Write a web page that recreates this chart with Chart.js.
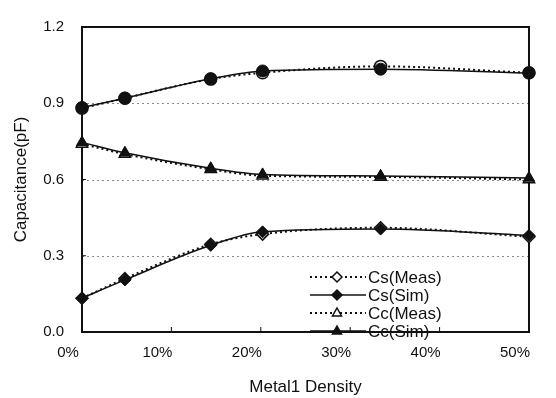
<!DOCTYPE html>
<html>
<head>
<meta charset="utf-8">
<script src="https://cdn.jsdelivr.net/npm/chart.js@4.4.1/dist/chart.umd.min.js"></script>
<style>
  body { margin: 0; background: #fff; }
  canvas { display: block; }
</style>
</head>
<body>
<canvas id="capChart" width="556" height="398"></canvas>
<script>
// Metal1 density (%) at each measured point
const density = [0, 4.8, 14.4, 20.2, 33.4, 50];

// top curve (Cs + Cc), not in legend
const ctMeas = [0.880, 0.920, 0.995, 1.020, 1.045, 1.020];
const ctSim  = [0.883, 0.920, 0.996, 1.027, 1.034, 1.019];

const ccMeas = [0.740, 0.700, 0.640, 0.615, 0.610, 0.600];
const ccSim  = [0.746, 0.705, 0.644, 0.620, 0.614, 0.606];

const csMeas = [0.133, 0.210, 0.345, 0.385, 0.410, 0.375];
const csSim  = [0.133, 0.205, 0.341, 0.394, 0.405, 0.380];

const xTicks = [0, 10, 20, 30, 40, 50];
const yTicks = [0.0, 0.3, 0.6, 0.9, 1.2];

const FONT = "'Liberation Sans', Arial, sans-serif";

function toPoints(values) {
    return values.map((v, i) => ({ x: density[i], y: v }));
}

function makeSet(label, values, style, meas, order) {
    return {
        label: label,
        data: toPoints(values),
        borderColor: '#111',
        borderWidth: meas ? 2 : 1.5,
        borderDash: meas ? [2, 3] : [],
        pointStyle: style,
        pointRadius: style === 'triangle' ? 6.5 : 6,
        pointBackgroundColor: meas ? '#fff' : '#111',
        pointBorderColor: '#111',
        pointBorderWidth: meas ? 1.5 : 1,
        cubicInterpolationMode: 'monotone',
        fill: false,
        clip: false,
        order: order
    };
}

function drawMarker(ctx, style, x, y, r, fillColor) {
    ctx.save();
    ctx.beginPath();
    if (style === 'circle') {
        ctx.arc(x, y, r, 0, Math.PI * 2);
    } else if (style === 'rectRot') {
        ctx.moveTo(x, y - r);
        ctx.lineTo(x + r, y);
        ctx.lineTo(x, y + r);
        ctx.lineTo(x - r, y);
        ctx.closePath();
    } else {
        ctx.moveTo(x, y - r);
        ctx.lineTo(x + r * 0.9, y + r * 0.6);
        ctx.lineTo(x - r * 0.9, y + r * 0.6);
        ctx.closePath();
    }
    ctx.fillStyle = fillColor;
    ctx.fill();
    ctx.lineWidth = 1.5;
    ctx.strokeStyle = '#111';
    ctx.setLineDash([]);
    ctx.stroke();
    ctx.restore();
}

// dotted grid, frame, inner tick marks and the legend inside the plot
const framePlugin = {
    id: 'framePlugin',
    beforeDatasetsDraw(chart) {
        const ctx = chart.ctx;
        const a = chart.chartArea;
        const xs = chart.scales.x;
        const ys = chart.scales.y;
        ctx.save();
        // dotted horizontal grid (not on the frame lines)
        ctx.strokeStyle = '#8a8a8a';
        ctx.lineWidth = 1;
        ctx.setLineDash([2, 3]);
        yTicks.slice(1, -1).forEach(t => {
            const py = Math.round(ys.getPixelForValue(t)) + 0.5;
            ctx.beginPath();
            ctx.moveTo(a.left, py);
            ctx.lineTo(a.right, py);
            ctx.stroke();
        });
        ctx.setLineDash([]);
        ctx.strokeStyle = '#111';
        ctx.lineWidth = 2;
        ctx.strokeRect(a.left, a.top, a.right - a.left, a.bottom - a.top);
        ctx.lineWidth = 1;
        ctx.beginPath();
        xTicks.forEach(t => {
            const px = xs.getPixelForValue(t);
            ctx.moveTo(px, a.bottom);
            ctx.lineTo(px, a.bottom - 5);
        });
        yTicks.forEach(t => {
            const py = ys.getPixelForValue(t);
            ctx.moveTo(a.left, py);
            ctx.lineTo(a.left + 4, py);
        });
        ctx.stroke();
        ctx.restore();
    },
    afterDraw(chart) {
        const ctx = chart.ctx;
        const items = [0, 1, 2, 3]; // Cs(Meas), Cs(Sim), Cc(Meas), Cc(Sim)
        ctx.save();
        ctx.font = '17px ' + FONT;
        ctx.textBaseline = 'middle';
        ctx.fillStyle = '#111';
        items.forEach((idx, row) => {
            const ds = chart.data.datasets[idx];
            const y = 277 + row * 18;
            ctx.beginPath();
            ctx.setLineDash(ds.borderDash);
            ctx.lineWidth = ds.borderWidth;
            ctx.strokeStyle = '#111';
            ctx.moveTo(310, y);
            ctx.lineTo(366, y);
            ctx.stroke();
            drawMarker(ctx, ds.pointStyle, 337, y, 5, ds.pointBackgroundColor);
            ctx.fillText(ds.label, 368, y + 1);
        });
        ctx.restore();
    }
};

function whenDocumentLoaded(action) {
    if (document.readyState === "loading") {
        document.addEventListener("DOMContentLoaded", action);
    } else {
        action();
    }
}

whenDocumentLoaded(() => {
    const ctx = document.getElementById('capChart');

    new Chart(ctx, {
        type: 'line',
        data: {
            datasets: [
                makeSet('Cs(Meas)', csMeas, 'rectRot', true, 1),
                makeSet('Cs(Sim)', csSim, 'rectRot', false, 0),
                makeSet('Cc(Meas)', ccMeas, 'triangle', true, 1),
                makeSet('Cc(Sim)', ccSim, 'triangle', false, 0),
                makeSet('Ct(Meas)', ctMeas, 'circle', true, 1),
                makeSet('Ct(Sim)', ctSim, 'circle', false, 0)
            ]
        },
        options: {
            responsive: false,
            animation: false,
            layout: { padding: { left: 0, right: 24, top: 15, bottom: 0 } },
            plugins: {
                legend: { display: false },
                tooltip: { enabled: false }
            },
            scales: {
                x: {
                    type: 'linear',
                    min: 0,
                    max: 50,
                    afterBuildTicks: scale => { scale.ticks = xTicks.map(v => ({ value: v })); },
                    afterFit: scale => { scale.height = 66; },
                    grid: { display: false, drawTicks: false },
                    border: { display: false },
                    ticks: {
                        padding: 12,
                        labelOffset: -14,
                        maxRotation: 0,
                        color: '#111',
                        font: { family: FONT, size: 15 },
                        callback: v => v + '%'
                    },
                    title: {
                        display: true,
                        text: 'Metal1 Density',
                        color: '#111',
                        font: { family: FONT, size: 17 },
                        padding: { top: 6, bottom: 0 }
                    }
                },
                y: {
                    min: 0,
                    max: 1.2,
                    afterBuildTicks: scale => { scale.ticks = yTicks.map(v => ({ value: v })); },
                    afterFit: scale => { scale.width = 82; },
                    grid: { display: false, drawTicks: false },
                    border: { display: false },
                    ticks: {
                        padding: 18,
                        color: '#111',
                        font: { family: FONT, size: 15 },
                        callback: v => Number(v).toFixed(1)
                    },
                    title: {
                        display: true,
                        text: 'Capacitance(pF)',
                        color: '#111',
                        font: { family: FONT, size: 17 },
                        padding: { top: 11, bottom: 0 }
                    }
                }
            }
        },
        plugins: [framePlugin]
    });
});
</script>
</body>
</html>
